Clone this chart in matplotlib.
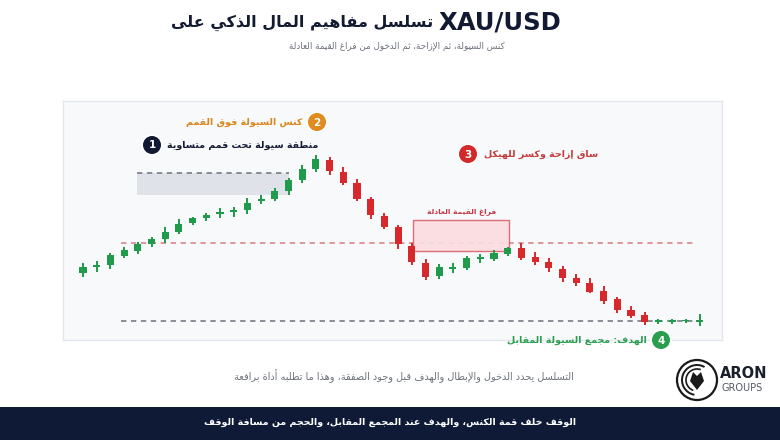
import matplotlib.pyplot as plt
from matplotlib.patches import Rectangle, Circle, Arc, Polygon

# ---- data (price units) ----
opens  = [67, 73, 75, 84, 89, 96, 101, 108, 117, 122, 126, 128, 130, 139, 141, 149, 160, 171,
          180, 168, 157, 141, 124, 113, 94, 77,
          64, 71, 72, 81, 81, 86,
          92, 83, 78, 71, 62, 57, 49, 41, 30, 25,
          18.3, 18.5, 18.8, 18.2]
highs  = [77, 79, 87, 93, 98, 103, 113, 121, 123, 127, 132, 133, 142, 145, 152, 162, 175, 185,
          183, 173, 161, 143, 127, 115, 97, 81,
          76, 77, 84, 86, 90, 93,
          97, 88, 82, 74, 66, 62, 54, 43, 34, 28,
          21.5, 21.5, 21, 26]
lows   = [63, 68, 71, 82, 86, 93, 97, 106, 115, 119, 122, 123, 126, 136, 139, 145, 157, 168,
          165, 155, 139, 121, 111, 91, 75, 60,
          61, 67, 70, 77, 79, 84,
          80, 75, 68, 58, 54, 47, 36, 27, 22, 15,
          16.5, 16.5, 17, 14]
closes = [73, 75, 85, 90, 96, 101, 108, 116, 122, 125, 127.5, 130, 137, 141, 149, 160, 171, 181,
          169, 157, 141, 125, 113, 96, 78, 63,
          73, 73, 82, 82.6, 87, 92,
          82, 78, 72, 62, 57, 48, 39, 30, 24, 18,
          19.8, 20, 20.2, 19.8]

equal_highs = 167.3          # liquidity above equal highs
liq_box_low = 145
break_level = 96.7           # structure level (red dashed)
target_level = 19.3          # opposite liquidity pool
fvg_low, fvg_high = 89.3, 120
fvg_start, fvg_end = 24.1, 31.1
liq_start, liq_end = 3.95, 15.05

title_ar = "تسلسل مفاهيم المال الذكي على"
title_sym = "XAU/USD"
subtitle = "كنس السيولة، ثم الإزاحة، ثم الدخول من فراغ القيمة العادلة"
label1 = "منطقة سيولة تحت قمم متساوية"
label2 = "كنس السيولة فوق القمم"
label3 = "ساق إزاحة وكسر للهيكل"
label4 = "الهدف: مجمع السيولة المقابل"
fvg_label = "فراغ القيمة العادلة"
caption = "التسلسل يحدد الدخول والإبطال والهدف قبل وجود الصفقة، وهذا ما تطلبه أداة برافعة"
footer = "الوقف خلف قمة الكنس، والهدف عند المجمع المقابل، والحجم من مسافة الوقف"

# ---- tiny arabic shaper (matplotlib has no bidi / shaping) ----
AR = {'ء': (0xFE80, 0), 'آ': (0xFE81, 1), 'أ': (0xFE83, 1), 'ؤ': (0xFE85, 1), 'إ': (0xFE87, 1),
      'ئ': (0xFE89, 2), 'ا': (0xFE8D, 1), 'ب': (0xFE8F, 2), 'ة': (0xFE93, 1), 'ت': (0xFE95, 2),
      'ث': (0xFE99, 2), 'ج': (0xFE9D, 2), 'ح': (0xFEA1, 2), 'خ': (0xFEA5, 2), 'د': (0xFEA9, 1),
      'ذ': (0xFEAB, 1), 'ر': (0xFEAD, 1), 'ز': (0xFEAF, 1), 'س': (0xFEB1, 2), 'ش': (0xFEB5, 2),
      'ص': (0xFEB9, 2), 'ض': (0xFEBD, 2), 'ط': (0xFEC1, 2), 'ظ': (0xFEC5, 2), 'ع': (0xFEC9, 2),
      'غ': (0xFECD, 2), 'ف': (0xFED1, 2), 'ق': (0xFED5, 2), 'ك': (0xFED9, 2), 'ل': (0xFEDD, 2),
      'م': (0xFEE1, 2), 'ن': (0xFEE5, 2), 'ه': (0xFEE9, 2), 'و': (0xFEED, 1), 'ى': (0xFEEF, 1),
      'ي': (0xFEF1, 2)}
LAM_ALEF = {'ا': 0xFEFB, 'أ': 0xFEF7, 'إ': 0xFEF9, 'آ': 0xFEF5}


def ar(text):
    chars = []
    i = 0
    while i < len(text):
        if text[i] == 'ل' and i + 1 < len(text) and text[i + 1] in LAM_ALEF:
            chars.append(('la', text[i + 1]))
            i += 2
        else:
            chars.append(text[i])
            i += 1

    def jt(c):
        if isinstance(c, tuple):
            return 1
        return AR.get(c, (0, -1))[1]

    out = []
    for k, c in enumerate(chars):
        t = jt(c)
        prev = jt(chars[k - 1]) if k > 0 else -1
        nxt = jt(chars[k + 1]) if k + 1 < len(chars) else -1
        jp = t >= 1 and prev == 2
        jn = t == 2 and nxt >= 1
        if isinstance(c, tuple):
            out.append(chr(LAM_ALEF[c[1]] + (1 if jp else 0)))
        elif t == -1:
            out.append(c)
        elif t == 0:
            out.append(chr(AR[c][0]))
        elif t == 1:
            out.append(chr(AR[c][0] + (1 if jp else 0)))
        else:
            b = AR[c][0]
            out.append(chr(b + 3 if (jp and jn) else b + 2 if jn else b + 1 if jp else b))
    return ''.join(out)[::-1]


plt.rcParams['font.family'] = ['DejaVu Sans']

NAVY = '#121a33'
GREEN = '#1f9b4b'
RED = '#d7282c'

fig = plt.figure(figsize=(7.8, 4.4), dpi=100)
fig.patch.set_facecolor('white')

W, H = 780, 440
# chart panel (pixel box 63..722 x 101..340)
ax = fig.add_axes([63 / W, 1 - 340 / H, 659 / W, 239 / H])
ax.set_facecolor('#f8f9fb')
for s in ax.spines.values():
    s.set_color('#e3e6ec')
    s.set_linewidth(1)
ax.set_xticks([])
ax.set_yticks([])
ax.set_xlim(-1.46, 46.64)
ax.set_ylim(0, 239)

idx = list(range(len(opens)))
cols = [GREEN if c >= o else RED for o, c in zip(opens, closes)]
ax.vlines(idx, lows, highs, colors=cols, linewidth=1.4, zorder=3)
bottoms = [min(o, c) for o, c in zip(opens, closes)]
heights = [max(abs(c - o), 1.6) for o, c in zip(opens, closes)]
ax.bar(idx, heights, bottom=bottoms, width=0.52, color=cols, zorder=4)

# liquidity zone + levels
ax.add_patch(Rectangle((liq_start, liq_box_low), liq_end - liq_start, equal_highs - liq_box_low,
                       facecolor='#dfe2e8', edgecolor='none', zorder=1))
ax.hlines(equal_highs, liq_start, liq_end, colors='#6b717c', linestyles=(0, (3.5, 3)), linewidth=1.1, zorder=2)
ax.hlines(break_level, 2.8, 44.5, colors='#d77b82', linestyles=(0, (3.5, 3)), linewidth=1.1, zorder=2)
ax.hlines(target_level, 2.8, 45.4, colors='#6b717c', linestyles=(0, (3.5, 3)), linewidth=1.1, zorder=2)
ax.add_patch(Rectangle((fvg_start, fvg_low), fvg_end - fvg_start, fvg_high - fvg_low,
                       facecolor='#fcdcdf', edgecolor='#d9606a', linewidth=1, alpha=0.9, zorder=2))
ax.text((fvg_start + fvg_end) / 2, fvg_high + 5, ar(fvg_label), ha='center', va='bottom',
        fontsize=5.4, fontweight='bold', color='#c23a48')

# overlay in pixel coordinates
ov = fig.add_axes([0, 0, 1, 1])
ov.set_xlim(0, W)
ov.set_ylim(H, 0)
ov.axis('off')
ov.patch.set_alpha(0)

ov.text(433, 23, ar(title_ar), ha='right', va='center', fontsize=11.5,
        fontweight='bold', color=NAVY)
ov.text(439, 22, title_sym, ha='left', va='center', fontsize=17.5,
        fontweight='bold', color=NAVY)
ov.text(397, 46, ar(subtitle), ha='center', va='center', fontsize=6.3, color='#6d727c')


def badge(x, y, n, color):
    ov.add_patch(Circle((x, y), 10.5, facecolor='white', edgecolor='none', zorder=5))
    ov.add_patch(Circle((x, y), 9, facecolor=color, edgecolor='none', zorder=6))
    ov.text(x, y + 0.5, str(n), ha='center', va='center', fontsize=7.5, fontweight='bold',
            color='white', zorder=7)


badge(152, 145, 1, NAVY)
ov.text(167, 145, ar(label1), ha='left', va='center', fontsize=6.8, fontweight='bold', color=NAVY)
badge(317, 122, 2, '#e08a1f')
ov.text(302, 122, ar(label2), ha='right', va='center', fontsize=6.8, fontweight='bold', color='#d9861c')
badge(468, 154, 3, '#d02a2a')
ov.text(484, 154, ar(label3), ha='left', va='center', fontsize=6.8, fontweight='bold', color='#c43c3c')
badge(661, 340, 4, '#2a9d4f')
ov.text(647, 340, ar(label4), ha='right', va='center', fontsize=6.8, fontweight='bold', color='#2a9d4f')

ov.text(404, 376, ar(caption), ha='center', va='center', fontsize=7, color='#6d727c')

# logo
ov.add_patch(Circle((697, 380), 20, facecolor='white', edgecolor='#1a1a1a', linewidth=1.6))
ov.add_patch(Arc((697, 380), 30, 30, theta1=100, theta2=300, color='#1a1a1a', linewidth=1.4))
ov.add_patch(Arc((697, 380), 22, 22, theta1=110, theta2=290, color='#1a1a1a', linewidth=1.2))
ov.add_patch(Polygon([(697, 390), (690, 381), (693, 372), (697, 376), (701, 372), (704, 381)],
                     closed=True, facecolor='#1a1a1a', edgecolor='none'))
ov.text(720, 373, 'ARON', ha='left', va='center', fontsize=10.5, fontweight='bold', color='#1a1f2b')
ov.text(721, 388, 'GROUPS', ha='left', va='center', fontsize=7, color='#555a63')

# footer bar
ov.add_patch(Rectangle((0, 407), W, 33, facecolor='#0e1a36', edgecolor='none'))
ov.text(390, 422, ar(footer), ha='center', va='center', fontsize=6.8, fontweight='bold', color='white')

fig.savefig('out.png', dpi=100)
